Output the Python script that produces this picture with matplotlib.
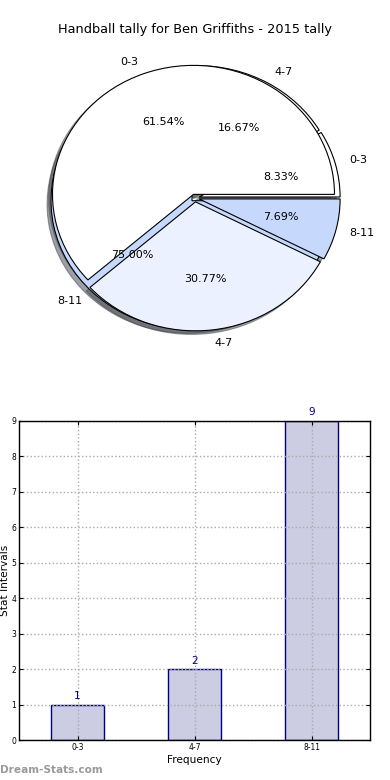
import numpy as np
import matplotlib
matplotlib.use('Agg')
from matplotlib import pyplot as plt

# data
categories = ['0-3', '4-7', '8-11']
tally_2015 = [1, 2, 9]          # bar values / second pie
pie_share = [8, 4, 1]           # first pie (61.54 / 30.77 / 7.69 %)

colors_tally = ['white', 'white', '#c6d9fd']
colors_share = ['white', '#ebf1fe', '#c6d9fd']

W, H = 390, 780
fig = plt.figure(figsize=(W / 100.0, H / 100.0), dpi=100)

def px_box(left, top, right, bottom):
	return [left / W, 1 - bottom / H, (right - left) / W, (bottom - top) / H]

# pie part: centre ~ (195, 198), rx ~ 141 px, ry ~ 129 px
L = 1.25
cx, cy, rx, ry = 195, 198, 141, 129
ax1 = fig.add_axes(px_box(cx - L * rx, cy - L * ry, cx + L * rx, cy + L * ry))
wp = {'linewidth': 0.8, 'edgecolor': 'black'}
tp = {'fontsize': 8}
ax1.pie(tally_2015, explode=[0.03] * 3, labels=categories, colors=colors_tally,
	autopct='%1.2f%%', shadow=True, startangle=0, wedgeprops=wp, textprops=tp)
ax1.pie(pie_share, explode=[0.03] * 3, labels=categories, colors=colors_share,
	autopct='%1.2f%%', shadow=True, startangle=0, wedgeprops=wp, textprops=tp)
ax1.set_aspect('auto')
ax1.set_xlim(-L, L)
ax1.set_ylim(-L, L)
ax1.axis('off')

fig.text(194.5 / W, 1 - 30 / H, 'Handball tally for Ben Griffiths - 2015 tally',
	ha='center', va='center', fontsize=9.3)

# bar part
ax2 = fig.add_axes(px_box(19, 421, 370, 740))
x = np.arange(len(categories))
ax2.bar(x, tally_2015, width=0.45, color='#ccccE2', edgecolor='#000080', linewidth=1, zorder=2)
for xi, v in zip(x, tally_2015):
	ax2.text(xi, v + 0.1, str(v), ha='center', va='bottom', color='#000080', fontsize=7.5)
ax2.set_xlim(-0.5, 2.5)
ax2.set_ylim(0, 9)
ax2.set_xticks(x)
ax2.set_xticklabels(categories)
ax2.set_yticks(range(10))
ax2.tick_params(direction='in', top=True, right=True, labelsize=5.5, length=3, pad=2)
ax2.grid(True, linestyle=':', color='#aaaaaa', linewidth=1, zorder=3)
ax2.set_axisbelow(False)
for s in ax2.spines.values():
	s.set_linewidth(1)
	s.set_zorder(4)

fig.text(194 / W, 1 - 760 / H, 'Frequency', ha='center', va='center', fontsize=7.6)
fig.text(5 / W, 1 - 580 / H, 'Stat Intervals', ha='center', va='center', rotation=90, fontsize=7.6)
fig.text(0, 1 - 770 / H, 'Dream-Stats.com', ha='left', va='center', fontsize=7.6,
	fontweight='bold', color='#9a9a9a')

fig.savefig('out.png', dpi=100)
